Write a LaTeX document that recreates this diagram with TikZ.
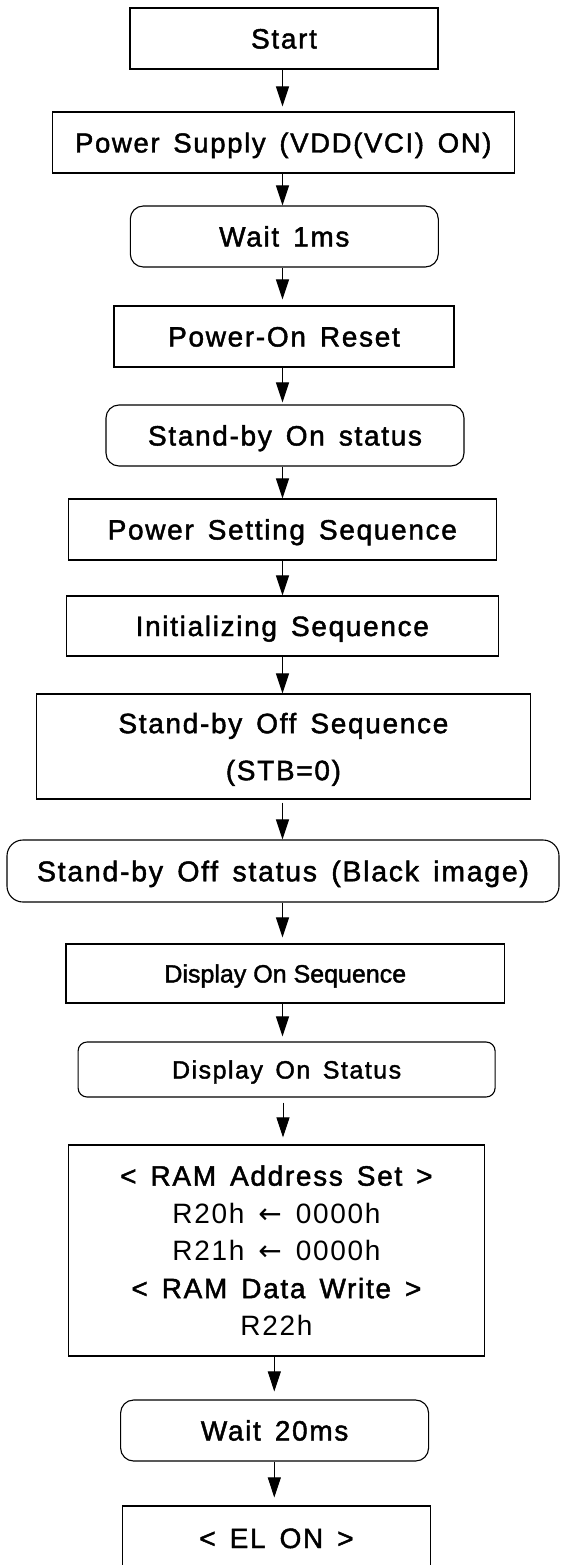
\documentclass[tikz,border=0pt]{standalone}
\usepackage{fontspec}
\setmainfont{Liberation Sans}[LetterSpace=6, FakeBold=1.6]
\newfontfamily\tightfont{Liberation Sans}[FakeBold=1.6]
\newfontfamily\plainfont{Liberation Sans}[LetterSpace=6]
\newfontfamily\arrowfont{DejaVu Sans}
\usetikzlibrary{arrows.meta}

% size, baseline skip; wide word spacing of the flowchart labels
\newcommand\flowfont[2]{\fontsize{#1}{#2}\selectfont\spaceskip=0.5em plus 0.1em minus 0.05em\relax}
% lighter register lines inside the RAM box
\newcommand\thinline{\plainfont\fontsize{28}{37.5}\selectfont\spaceskip=0.5em plus 0.1em minus 0.05em\relax}
\newcommand\leftarr{{\arrowfont\fontsize{28}{37.5}\selectfont ←}}

\tikzset{
  basebox/.style={draw=black, line width=1.1pt, rectangle, inner sep=0pt, font={\flowfont{28}{37.5}}},
  stepbox/.style={basebox, text height=20pt, text depth=0pt},
  roundbox/.style={stepbox, rounded corners=13pt},
  multibox/.style={basebox, align=center, text depth=0pt},
  flow/.style={draw=black, line width=1pt, -{Triangle[length=20pt,width=13pt]}},
}

\begin{document}
\begin{tikzpicture}[x=1pt,y=-1pt]
\useasboundingbox (0,0) rectangle (560,1565);
\clip (0,0) rectangle (560,1565);
\fill[white] (0,0) rectangle (560,1565);

% arrow columns
\coordinate (ax) at (282.5,0);
\coordinate (cx) at (283,0);
\coordinate (bx) at (274.3,0);

% steps
\node[stepbox, minimum width=308pt, minimum height=61pt] (start) at (284,38.5) {Start};
\node[stepbox, minimum width=462pt, minimum height=61pt, font={\flowfont{27.5}{32}}] (psup) at (283.3,142.5) {Power Supply (VDD(VCI) ON)};
\node[roundbox, minimum width=308pt, minimum height=61pt] (wait1) at (284.3,236.5) {Wait 1ms};
\node[stepbox, minimum width=340pt, minimum height=61pt] (por) at (284,336.5) {Power-On Reset};
\node[roundbox, minimum width=358pt, minimum height=61pt] (sbon) at (285,435.5) {Stand-by On status};
\node[stepbox, minimum width=428pt, minimum height=61pt] (pss) at (282.3,529.5) {Power Setting Sequence};
\node[stepbox, minimum width=432pt, minimum height=60pt] (init) at (282.3,626) {Initializing Sequence};
\node[multibox, minimum width=494pt, minimum height=105pt, font={\flowfont{28}{47}}] (sbos) at (283.4,746.5) {Stand-by Off Sequence\\(STB=0)};
\node[roundbox, rounded corners=16pt, minimum width=552pt, minimum height=62pt, font={\flowfont{28.5}{34}}, text height=20.5pt] (sboff) at (283,871) {Stand-by Off status (Black image)};
\node[stepbox, minimum width=438.6pt, minimum height=59pt, font={\tightfont\fontsize{25}{30}\selectfont}, text height=18pt] (dos) at (285.3,973.5) {Display On Sequence};
\node[roundbox, rounded corners=9pt, minimum width=417pt, minimum height=55pt, font={\flowfont{25}{30}}, text height=18pt] (dost) at (286.6,1069.5) {Display On Status};
\node[multibox, minimum width=416.4pt, minimum height=211pt] (ram) at (276.4,1250.5)
  {< RAM Address Set >\\{\thinline R20h \leftarr{} 0000h}\\{\thinline R21h \leftarr{} 0000h}\\< RAM Data Write >\\{\thinline R22h}};
\node[roundbox, minimum width=308pt, minimum height=61pt] (wait20) at (274.6,1430.5) {Wait 20ms};
\node[stepbox, minimum width=308pt, minimum height=64pt] (elon) at (276.5,1538) {< EL ON >};

% connectors
\draw[flow, shorten >=5pt] (start.south -| ax) -- (psup.north -| ax);
\draw[flow] (psup.south -| ax) -- (wait1.north -| ax);
\draw[flow, shorten >=6pt] (wait1.south -| ax) -- (por.north -| ax);
\draw[flow, shorten >=2pt] (por.south -| ax) -- (sbon.north -| ax);
\draw[flow] (sbon.south -| ax) -- (pss.north -| ax);
\draw[flow] (pss.south -| ax) -- (init.north -| ax);
\draw[flow] (init.south -| ax) -- (sbos.north -| ax);
\draw[flow, shorten <=3pt] (sbos.south -| ax) -- (sboff.north -| ax);
\draw[flow, shorten >=6pt] (sboff.south -| ax) -- (dos.north -| ax);
\draw[flow, shorten >=5pt] (dos.south -| ax) -- (dost.north -| ax);
\draw[flow, shorten <=5pt, shorten >=7pt] (dost.south -| cx) -- (ram.north -| cx);
\draw[flow, shorten >=8pt] (ram.south -| bx) -- (wait20.north -| bx);
\draw[flow, shorten >=8pt] (wait20.south -| bx) -- (elon.north -| bx);
\end{tikzpicture}
\end{document}
